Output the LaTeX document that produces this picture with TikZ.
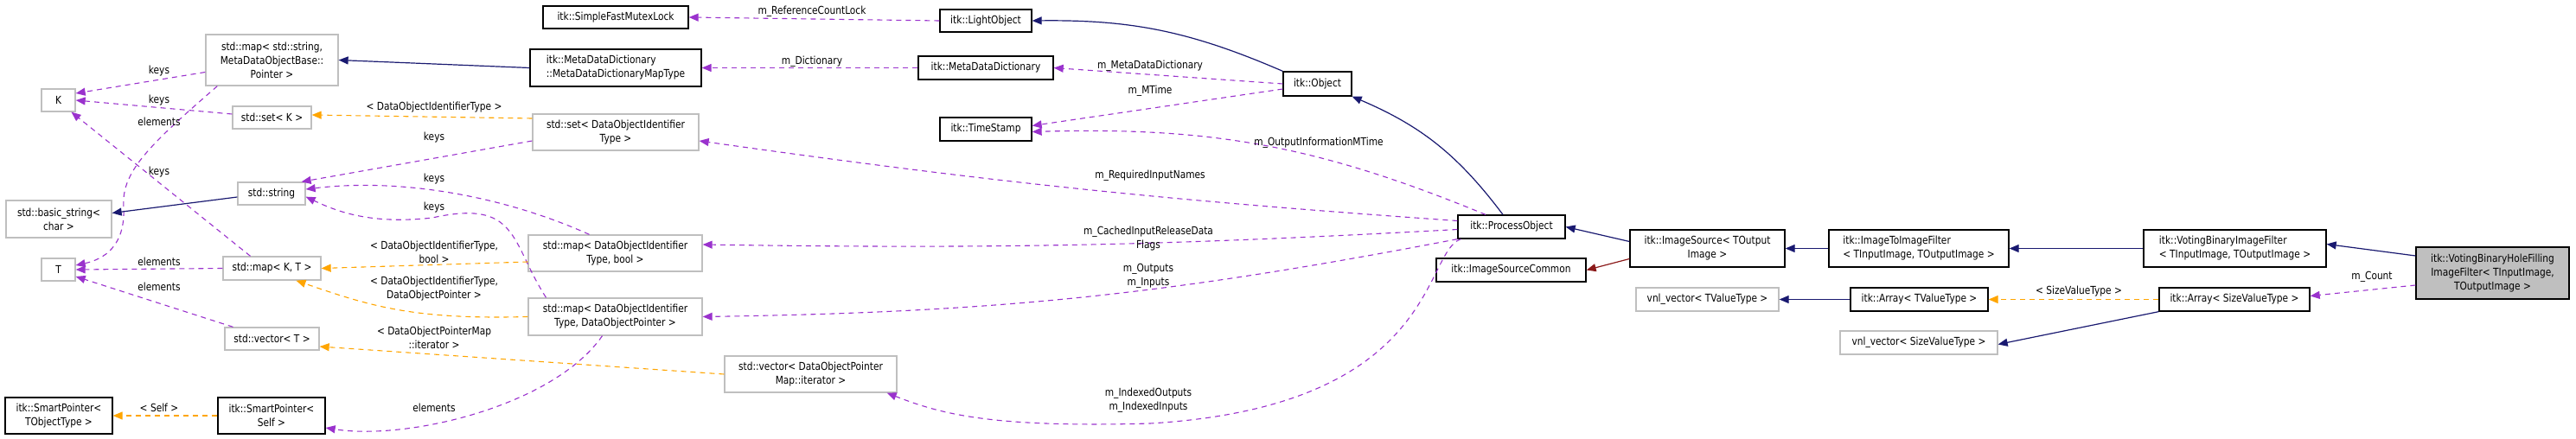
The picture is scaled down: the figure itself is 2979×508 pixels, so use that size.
\documentclass[tikz,border=0pt]{standalone}
\usepackage{fontspec}
\setmainfont{DejaVu Sans}[FakeStretch=0.85]
\usetikzlibrary{arrows.meta}
\definecolor{mblue}{HTML}{191970}
\definecolor{mpurple}{HTML}{9A32CD}
\definecolor{morange}{HTML}{FFA500}
\definecolor{mred}{HTML}{8B1A1A}
\begin{document}
\begin{tikzpicture}[x=1pt,y=-1pt,
  font=\fontsize{12.5}{16}\selectfont,
  box/.style={draw=black,line width=1.3pt,inner sep=0pt,align=center},
  gbox/.style={draw=black!25,line width=1.3pt,inner sep=0pt,align=center},
  tip/.style={-{Triangle[length=11pt,width=9pt]}},
  inh/.style={tip,draw=mblue,line width=1.2pt},
  inr/.style={tip,draw=mred,line width=1.2pt},
  use/.style={tip,draw=mpurple,line width=1.1pt,dash pattern=on 6pt off 5pt},
  tpl/.style={tip,draw=morange,line width=1.1pt,dash pattern=on 6pt off 5pt},
  lbl/.style={inner sep=0pt,align=center}]
\useasboundingbox (0,0) rectangle (2979,508);
% nodes
\node[gbox,minimum width=39,minimum height=26] (K) at (67.5,116) {K};
\node[gbox,minimum width=153,minimum height=59] (mapSM) at (314.5,69.5) {std::map\textless{} std::string,\\MetaDataObjectBase::\\Pointer \textgreater{}};
\node[gbox,minimum width=91,minimum height=26] (setK) at (314.5,136) {std::set\textless{} K \textgreater{}};
\node[gbox,minimum width=192,minimum height=42] (setDOI) at (712,153) {std::set\textless{} DataObjectIdentifier\\Type \textgreater{}};
\node[gbox,minimum width=78,minimum height=26] (str) at (314,224) {std::string};
\node[gbox,minimum width=122,minimum height=43] (bstr) at (68,253.5) {std::basic\_string\textless{}\\char \textgreater{}};
\node[gbox,minimum width=39,minimum height=26] (T) at (67.5,312) {T};
\node[gbox,minimum width=113,minimum height=27] (mapKT) at (314.5,310.5) {std::map\textless{} K, T \textgreater{}};
\node[gbox,minimum width=109,minimum height=26] (vecT) at (314.5,392) {std::vector\textless{} T \textgreater{}};
\node[box,minimum width=124,minimum height=42] (spT) at (68,481) {itk::SmartPointer\textless{}\\TObjectType \textgreater{}};
\node[box,minimum width=124,minimum height=42] (spS) at (314,481) {itk::SmartPointer\textless{}\\Self \textgreater{}};
\node[box,minimum width=168,minimum height=26] (mutex) at (712,20) {itk::SimpleFastMutexLock};
\node[box,minimum width=198,minimum height=43,align=left] (mdmt) at (712,78.5) {itk::MetaDataDictionary\\::MetaDataDictionaryMapType};
\node[box,minimum width=106,minimum height=26] (light) at (1140,24) {itk::LightObject};
\node[box,minimum width=156,minimum height=27] (mdd) at (1140,78.5) {itk::MetaDataDictionary};
\node[box,minimum width=79,minimum height=28] (obj) at (1523.5,97) {itk::Object};
\node[box,minimum width=106,minimum height=27] (ts) at (1140,149.5) {itk::TimeStamp};
\node[gbox,minimum width=201,minimum height=42] (mapB) at (711.5,293) {std::map\textless{} DataObjectIdentifier\\Type, bool \textgreater{}};
\node[gbox,minimum width=201,minimum height=43] (mapP) at (711.5,366.5) {std::map\textless{} DataObjectIdentifier\\Type, DataObjectPointer \textgreater{}};
\node[gbox,minimum width=199,minimum height=42] (vecI) at (937.5,433) {std::vector\textless{} DataObjectPointer\\Map::iterator \textgreater{}};
\node[box,minimum width=124,minimum height=27] (po) at (1748,262.5) {itk::ProcessObject};
\node[box,minimum width=173,minimum height=27] (isc) at (1747.5,312.5) {itk::ImageSourceCommon};
\node[box,minimum width=179,minimum height=43] (is) at (1974.5,287.5) {itk::ImageSource\textless{} TOutput\\Image \textgreater{}};
\node[box,minimum width=208,minimum height=43,align=left] (itif) at (2219,287.5) {itk::ImageToImageFilter\\\textless{} TInputImage, TOutputImage \textgreater{}};
\node[box,minimum width=211,minimum height=43,align=left] (vbif) at (2584.5,287.5) {itk::VotingBinaryImageFilter\\\textless{} TInputImage, TOutputImage \textgreater{}};
\node[box,fill=black!25,minimum width=177,minimum height=60] (hole) at (2882.5,316) {itk::VotingBinaryHoleFilling\\ImageFilter\textless{} TInputImage,\\TOutputImage \textgreater{}};
\node[gbox,minimum width=165,minimum height=27] (vnlT) at (1974.5,346.5) {vnl\_vector\textless{} TValueType \textgreater{}};
\node[box,minimum width=159,minimum height=27] (arrT) at (2219.5,346.5) {itk::Array\textless{} TValueType \textgreater{}};
\node[box,minimum width=174,minimum height=27] (arrS) at (2584,346.5) {itk::Array\textless{} SizeValueType \textgreater{}};
\node[gbox,minimum width=182,minimum height=27] (vnlS) at (2219,396.5) {vnl\_vector\textless{} SizeValueType \textgreater{}};
% right part edges
\draw[inh] (mdmt.west) -- (mapSM.east);
\draw[use] (light.west) -- (mutex.east);
\node[lbl] (l1) at (939,13) {m\_ReferenceCountLock};
\draw[inh] (obj.north west) to[bend right=12] (light.east);
\draw[use] (mdd.west) -- (mdmt.east);
\node[lbl] (l2) at (939,71) {m\_Dictionary};
\draw[use] (obj.west) -- (mdd.east);
\node[lbl] (l3) at (1330,76) {m\_MetaDataDictionary};
\draw[use] ([yshift=-6]obj.west) -- ([yshift=4]ts.east);
\node[lbl] (l4) at (1330,105) {m\_MTime};
\draw[use] ([xshift=-30]po.north) to[bend right=12] ([yshift=-3]ts.east);
\node[lbl] (l5) at (1525,165) {m\_OutputInformationMTime};
\draw[inh] ([xshift=-10]po.north) to[bend right=15] (obj.south east);
\draw[use] ([yshift=7]po.west) to[bend left=2] ([yshift=-10]setDOI.east);
\node[lbl] (l6) at (1330,203) {m\_RequiredInputNames};
\draw[use] ([yshift=-3]po.west) to[bend left=2] ([yshift=10]mapB.east);
\node[lbl] (l7) at (1328,276) {m\_CachedInputReleaseData\\Flags};
\draw[use] (po.south west) to[bend left=5] (mapP.east);
\node[lbl] (l8) at (1328,319) {m\_Outputs\\m\_Inputs};
\draw[use] ([xshift=4]po.south west) .. controls (1645,292) and (1665,470) .. (1330,490) .. controls (1150,495) and (1090,480) .. ([xshift=-12]vecI.south east);
\node[lbl] (l9) at (1328,463) {m\_IndexedOutputs\\m\_IndexedInputs};
\draw[inh] ([yshift=8]is.west) -- (po.east);
\draw[inr] ([yshift=-12]is.west) -- (isc.east);
\draw[inh] (itif.west) -- (is.east);
\draw[inh] (vbif.west) -- (itif.east);
\draw[inh] ([yshift=20]hole.west) -- ([yshift=5]vbif.east);
\draw[use] ([yshift=-14]hole.west) -- ([yshift=4]arrS.east);
\node[lbl] (l10) at (2743,320) {m\_Count};
\draw[tpl] (arrS.west) -- (arrT.east);
\node[lbl] (l11) at (2404,337) {\textless{} SizeValueType \textgreater{}};
\draw[inh] (arrT.west) -- (vnlT.east);
\draw[inh] (arrS.south west) -- ([yshift=-2]vnlS.east);
% left part edges
\draw[use] ([yshift=-14]mapSM.west) -- ([yshift=8]K.east);
\node[lbl] (l12) at (184,82) {keys};
\draw[use] ([yshift=4]setK.west) -- (K.east);
\node[lbl] (l13) at (184,116) {keys};
\draw[use] ([xshift=-25]mapKT.north) -- ([xshift=15]K.south);
\node[lbl] (l14) at (184,199) {keys};
\draw[use] ([xshift=14]mapSM.south west) .. controls (170,170) and (140,200) .. (143,240) .. controls (145,285) and (120,300) .. ([yshift=5]T.east);
\node[lbl] (l15) at (184,141) {elements};
\draw[tpl] ([yshift=16]setDOI.west) -- ([yshift=3]setK.east);
\node[lbl] (l16) at (502,124) {\textless{} DataObjectIdentifierType \textgreater{}};
\draw[use] ([yshift=-10]setDOI.west) -- ([xshift=-5]str.north east);
\node[lbl] (l17) at (502,159) {keys};
\draw[use] ([xshift=-30]mapB.north) .. controls (590,230) and (470,205) .. ([yshift=5]str.east);
\node[lbl] (l18) at (502,207) {keys};
\draw[use] ([xshift=-80]mapP.north) .. controls (590,280) and (600,230) .. (500,252) .. controls (430,260) and (390,245) .. ([yshift=10]str.south east);
\node[lbl] (l19) at (502,240) {keys};
\draw[inh] ([yshift=-4]str.west) -- ([yshift=7]bstr.east);
\draw[use] (mapKT.west) -- (T.east);
\node[lbl] (l20) at (184,303) {elements};
\draw[use] ([xshift=-45]vecT.north) -- ([yshift=-8]T.east);
\node[lbl] (l21) at (184,332) {elements};
\draw[tpl] ([yshift=-10]mapB.west) -- (mapKT.east);
\node[lbl] (l22) at (502,292) {\textless{} DataObjectIdentifierType,\\bool \textgreater{}};
\draw[tpl] (mapP.west) .. controls (480,370) and (430,355) .. ([xshift=28]mapKT.south);
\node[lbl] (l23) at (502,334) {\textless{} DataObjectIdentifierType,\\DataObjectPointer \textgreater{}};
\draw[tpl] (vecI.west) -- ([yshift=-9]vecT.east);
\node[lbl] (l24) at (502,391) {\textless{} DataObjectPointerMap\\::iterator \textgreater{}};
\draw[use] ([xshift=-15]mapP.south) .. controls (640,470) and (470,510) .. ([yshift=-14]spS.east);
\node[lbl] (l25) at (502,472) {elements};
\draw[tpl] (spS.west) -- (spT.east);
\node[lbl] (l26) at (184,472) {\textless{} Self \textgreater{}};
\end{tikzpicture}
\end{document}
